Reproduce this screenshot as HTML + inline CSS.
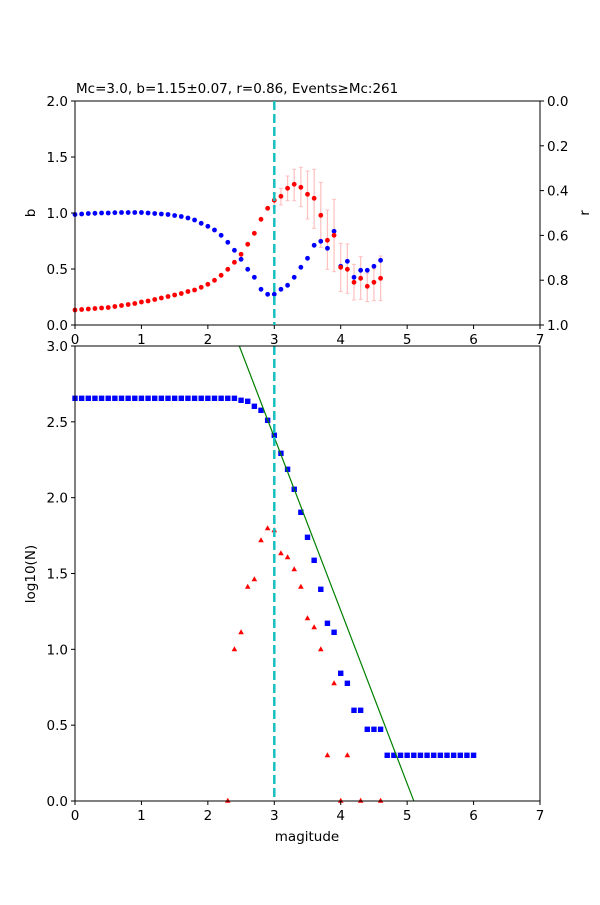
<!DOCTYPE html>
<html><head><meta charset="utf-8"><style>
body{margin:0;background:#fff}
svg text{font-family:"DejaVu Sans",sans-serif;font-size:13.5px;fill:#000}
</style></head><body>
<svg id="s" width="600" height="900" xmlns="http://www.w3.org/2000/svg">
<rect width="600" height="900" fill="#fff"/>
<g id="g"></g>
</svg>
<script>
const g=document.getElementById('g');let h='';
const X=m=>75+66.43*m;
function frame(y0,y1){h+=`<rect x="75" y="${y0}" width="465" height="${y1-y0}" fill="none" stroke="#000" stroke-width="1"/>`;}
const eb=[[3.0,100,140],[3.1,85,135],[3.2,48,122],[3.3,28,122],[3.4,22,140],[3.5,33,177],[3.6,28,205],[3.7,67,262],[3.8,150,328],[3.9,118,335],[4.0,250,395],[4.1,252,400],[4.2,313,420],[4.3,290,418],[4.4,340,425],[4.5,327,422],[4.6,288,422]];
eb.forEach(e=>{const x=X(e[0]);h+=`<line x1="${x}" x2="${x}" y1="${160+e[1]/3}" y2="${160+e[2]/3}" stroke="#ffc0c0" stroke-width="1.2"/><line x1="${x-2}" x2="${x+2}" y1="${160+e[1]/3}" y2="${160+e[1]/3}" stroke="#ffc0c0"/><line x1="${x-2}" x2="${x+2}" y1="${160+e[2]/3}" y2="${160+e[2]/3}" stroke="#ffc0c0"/>`;});
const blue=[214.5,214,213.5,213.3,213,213,212.7,212.5,212.5,212.5,212.5,213,213.5,214,214.5,215.5,216.5,218,220,223.3,226.3,230,235.3,242.3,250.3,259.3,269.3,277.3,289.3,294.3,294.3,289.3,285.3,277.3,267.3,258.3,245.3,241.3,248.3,231.3,266.3,261.3,277.3,270.3,270.3,266.3,260.3];
const red=[310,309.5,309,308.5,308,307.5,306.5,305.5,304.5,303.5,302,301,299.5,298,296.5,295,293.5,291.5,290,287.3,284.3,280.3,275.3,269.3,262.3,254.3,244.3,233.3,219.3,208.3,200.3,196.3,188.3,184.3,187.3,194.3,198.3,215.3,240.3,235.3,267.3,269.3,282.3,278.3,286.3,282.3,278.3];
blue.forEach((y,i)=>h+=`<circle cx="${X(i/10)}" cy="${y}" r="2.4" fill="#0000ff"/>`);
red.forEach((y,i)=>h+=`<circle cx="${X(i/10)}" cy="${y}" r="2.4" fill="#ff0000"/>`);
frame(101,325);
for(let i=0;i<=7;i++){const x=X(i);h+=`<line x1="${x}" x2="${x}" y1="325" y2="329" stroke="#000"/><text x="${x}" y="344" text-anchor="middle">${i}</text>`;}
for(let i=0;i<=4;i++){const v=i*0.5,y=325-v*112;h+=`<line x1="71" x2="75" y1="${y}" y2="${y}" stroke="#000"/><text x="68" y="${y+5}" text-anchor="end">${v.toFixed(1)}</text>`;}
for(let i=0;i<=5;i++){const v=i*0.2,y=101+v*224;h+=`<line x1="540" x2="544" y1="${y}" y2="${y}" stroke="#000"/><text x="547" y="${y+5}">${v.toFixed(1)}</text>`;}
h+=`<text x="35" y="213" text-anchor="middle" transform="rotate(-90 35 213)">b</text>`;
h+=`<text x="589" y="213" text-anchor="middle" transform="rotate(-90 589 213)">r</text>`;
h+=`<text x="76" y="93">Mc=3.0, b=1.15±0.07, r=0.86, Events≥Mc:261</text>`;
const sq=[];for(let i=0;i<=24;i++)sq.push([i/10,398.3]);
[[2.5,400.3],[2.6,401.3],[2.7,406.3],[2.8,410.3],[2.9,420.3],[3.0,435.3],[3.1,453.3],[3.2,469.3],[3.3,489.3],[3.4,512.3],[3.5,537.3],[3.6,560.3],[3.7,589.3],[3.8,623.3],[3.9,632.3],[4.0,673.3],[4.1,683.3],[4.2,710.3],[4.3,710.3],[4.4,729.3],[4.5,729.3],[4.6,729.3]].forEach(p=>sq.push(p));
for(let i=47;i<=60;i++)sq.push([i/10,755.3]);
sq.forEach(p=>h+=`<rect x="${X(p[0])-2.7}" y="${p[1]-2.7}" width="5.4" height="5.4" fill="#0000ff"/>`);
const tr=[[2.3,800.7],[2.4,649.3],[2.5,632.3],[2.6,586.7],[2.7,579.3],[2.8,540.3],[2.9,528.3],[3.0,530.3],[3.1,553.3],[3.2,557.3],[3.3,569.3],[3.4,586.7],[3.5,618.3],[3.6,627.3],[3.7,649.3],[3.8,755.3],[3.9,683.3],[4.0,800.7],[4.1,755.3],[4.3,800.7],[4.6,800.7]];
tr.forEach(p=>{const x=X(p[0]),y=p[1];h+=`<polygon points="${x},${y-3} ${x-2.8},${y+2} ${x+2.8},${y+2}" fill="#ff0000"/>`;});
h+=`<line x1="239.3" y1="346" x2="413.7" y2="800.7" stroke="#008000" stroke-width="1.2"/>`;
h+=`<line x1="274.3" x2="274.3" y1="101" y2="325" stroke="#17bfbf" stroke-width="2.5" stroke-dasharray="9,4"/>`;
h+=`<line x1="274.3" x2="274.3" y1="346" y2="801" stroke="#17bfbf" stroke-width="2.5" stroke-dasharray="9,4"/>`;
frame(346,801);
for(let i=0;i<=7;i++){const x=X(i);h+=`<line x1="${x}" x2="${x}" y1="801" y2="805" stroke="#000"/><text x="${x}" y="820" text-anchor="middle">${i}</text>`;}
for(let i=0;i<=6;i++){const v=i*0.5,y=801-v*151.67;h+=`<line x1="71" x2="75" y1="${y}" y2="${y}" stroke="#000"/><text x="68" y="${y+5}" text-anchor="end">${v.toFixed(1)}</text>`;}
h+=`<text x="307" y="841" text-anchor="middle">magitude</text>`;
h+=`<text x="35" y="574" text-anchor="middle" transform="rotate(-90 35 574)">log10(N)</text>`;
g.innerHTML=h;
</script>
</body></html>
